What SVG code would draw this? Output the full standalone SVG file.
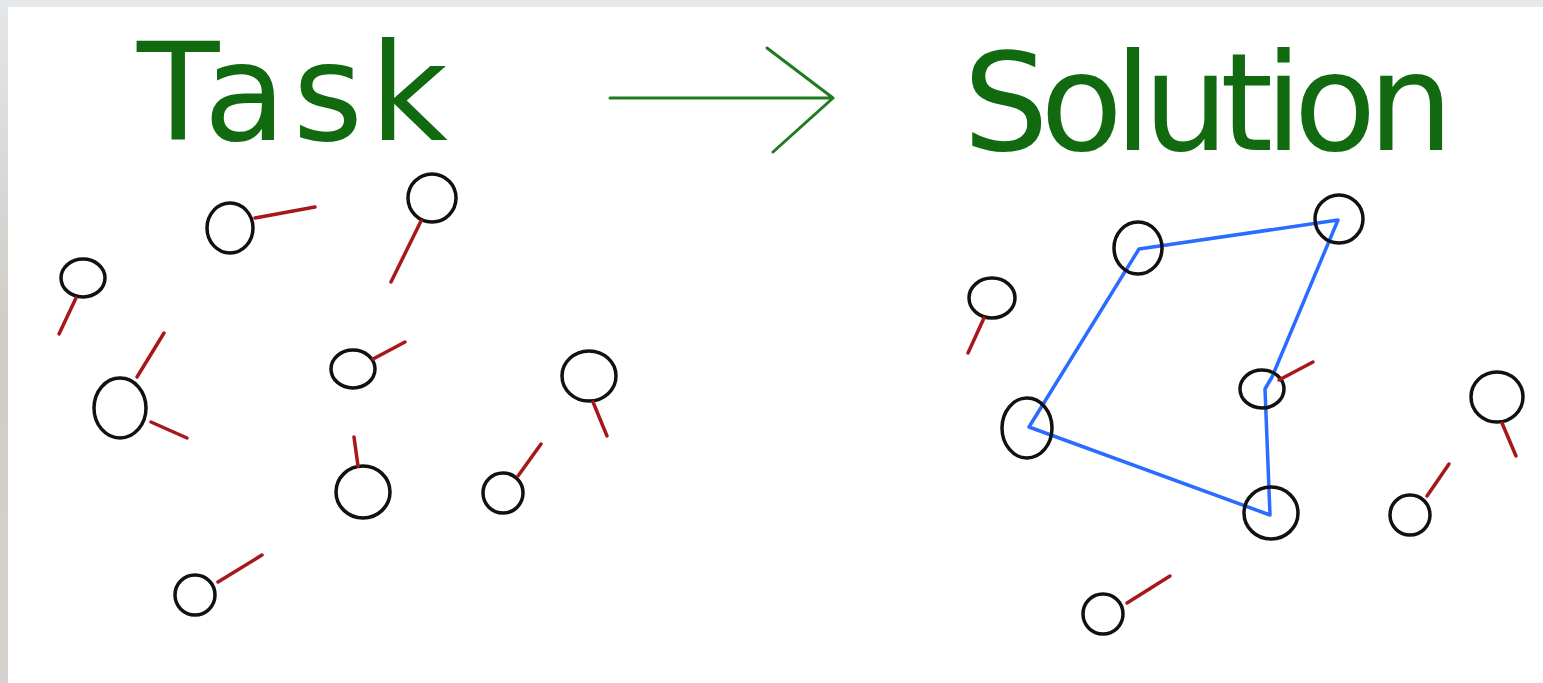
<svg xmlns="http://www.w3.org/2000/svg" width="1543" height="683" viewBox="0 0 1543 683">
<defs>
<linearGradient id="bgL" x1="0" y1="0" x2="0" y2="1">
<stop offset="0" stop-color="#e4e6e8"/><stop offset="0.5" stop-color="#cfcbc6"/><stop offset="1" stop-color="#d6d3cf"/>
</linearGradient>
</defs>
<style>
.title{font-family:"DejaVu Sans","Liberation Sans",sans-serif;font-size:135px;fill:#126a10}
.n{fill:none;stroke:#111;stroke-width:3.5}
.r{stroke:#a8181a;stroke-width:3.5;stroke-linecap:round}
.route{fill:none;stroke:#2a6cff;stroke-width:3.5;stroke-linejoin:round}
.arrow{fill:none;stroke:#207a20;stroke-width:3;stroke-linecap:round;stroke-linejoin:round}
</style>
<rect x="0" y="0" width="1543" height="683" fill="url(#bgL)"/>
<rect x="0" y="0" width="1543" height="7" fill="#e6e9ec"/>
<rect x="8" y="7" width="1535" height="676" fill="#ffffff"/>

<g id="title-task"><text class="title" x="137" y="140" letter-spacing="6.5">Task</text></g>
<g id="title-solution"><text class="title" x="963" y="150" letter-spacing="-8.5">Solution</text></g>

<g id="connectors">
<path class="arrow" d="M610,98 L833,98 M767,48 L833,98 L773,152"/>
<path class="route" d="M1139,249 L1338,220 L1272,377 L1265,389 L1270,515 L1029,427 L1139,249 Z"/>
</g>

<!-- Task side -->
<g id="t1"><ellipse class="n" cx="230" cy="228" rx="23" ry="25"/><line class="r" x1="255" y1="218" x2="315" y2="207"/></g>
<g id="t2"><ellipse class="n" cx="83" cy="278" rx="22" ry="19"/><line class="r" x1="76" y1="298" x2="59" y2="334"/></g>
<g id="t3"><ellipse class="n" cx="120" cy="408" rx="26" ry="30"/><line class="r" x1="137" y1="377" x2="164" y2="333"/><line class="r" x1="151" y1="422" x2="187" y2="438"/></g>
<g id="t4"><ellipse class="n" cx="432" cy="198" rx="24" ry="24"/><line class="r" x1="421" y1="221" x2="391" y2="282"/></g>
<g id="t5"><ellipse class="n" cx="353" cy="369" rx="22" ry="19"/><line class="r" x1="373" y1="359" x2="405" y2="342"/></g>
<g id="t6"><ellipse class="n" cx="589" cy="376" rx="27" ry="25"/><line class="r" x1="593" y1="402" x2="607" y2="436"/></g>
<g id="t7"><ellipse class="n" cx="363" cy="492" rx="27" ry="26"/><line class="r" x1="358" y1="466" x2="354" y2="437"/></g>
<g id="t8"><ellipse class="n" cx="503" cy="493" rx="20" ry="20"/><line class="r" x1="518" y1="476" x2="541" y2="444"/></g>
<g id="t9"><ellipse class="n" cx="195" cy="595" rx="20" ry="20"/><line class="r" x1="218" y1="582" x2="262" y2="555"/></g>

<!-- Solution side -->
<g id="s1"><ellipse class="n" cx="992" cy="298" rx="23" ry="20"/><line class="r" x1="984" y1="318" x2="968" y2="353"/></g>
<g id="s2"><ellipse class="n" cx="1138" cy="248" rx="24" ry="26"/></g>
<g id="s3"><ellipse class="n" cx="1339" cy="219" rx="24" ry="24"/></g>
<g id="s4"><ellipse class="n" cx="1027" cy="428" rx="25" ry="30"/></g>
<g id="s5"><ellipse class="n" cx="1262" cy="389" rx="22" ry="19"/><line class="r" x1="1279" y1="380" x2="1313" y2="362"/></g>
<g id="s6"><ellipse class="n" cx="1271" cy="513" rx="27" ry="26"/></g>
<g id="s7"><ellipse class="n" cx="1497" cy="397" rx="26" ry="25"/><line class="r" x1="1502" y1="423" x2="1516" y2="456"/></g>
<g id="s8"><ellipse class="n" cx="1410" cy="515" rx="20" ry="20"/><line class="r" x1="1427" y1="496" x2="1449" y2="464"/></g>
<g id="s9"><ellipse class="n" cx="1103" cy="614" rx="20" ry="20"/><line class="r" x1="1127" y1="603" x2="1170" y2="576"/></g>
</svg>
